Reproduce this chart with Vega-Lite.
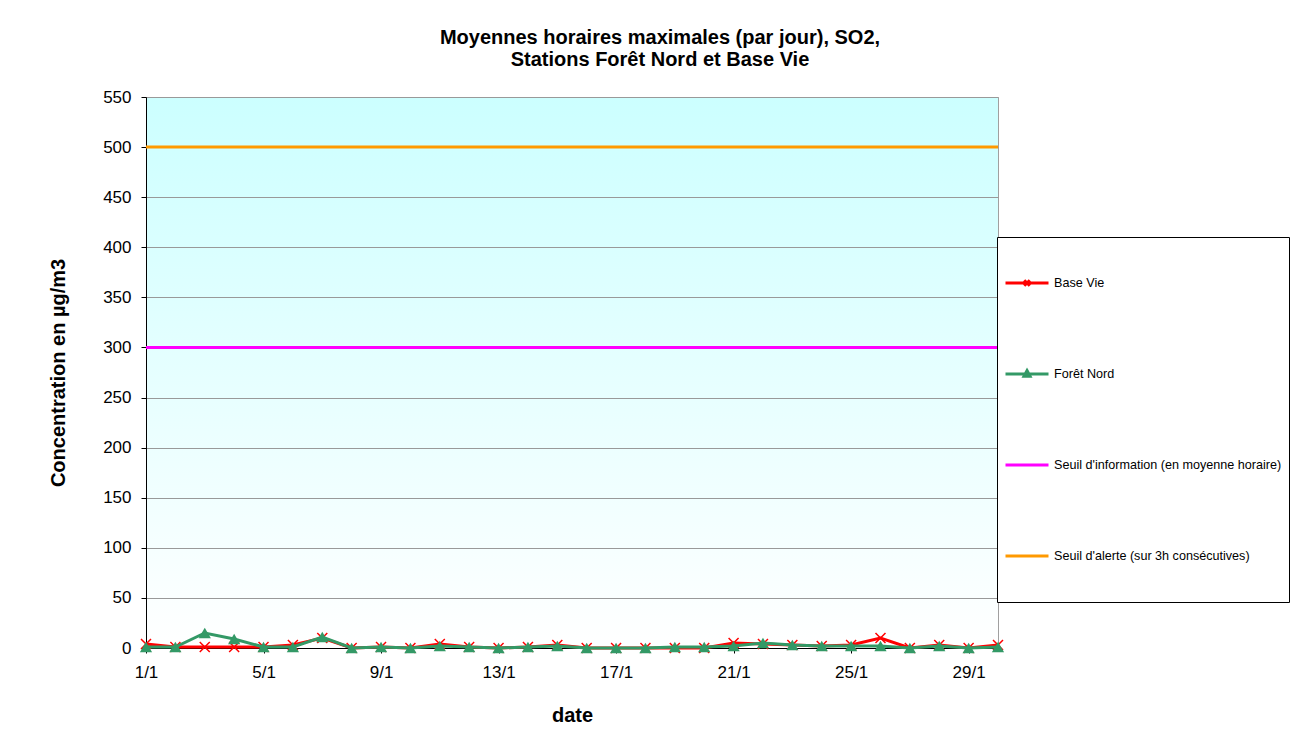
{
  "$schema": "https://vega.github.io/schema/vega-lite/v6.json",
  "width": 852,
  "height": 551,
  "autosize": {"type": "none"},
  "padding": {"left": 146, "top": 97, "right": 294, "bottom": 94},
  "background": "white",
  "title": {
    "text": ["Moyennes horaires maximales (par jour), SO2,", "Stations Forêt Nord et Base Vie"],
    "font": "Liberation Sans",
    "fontSize": 20,
    "fontWeight": "bold",
    "color": "black",
    "anchor": "middle",
    "dx": 88,
    "offset": 18,
    "lineHeight": 22
  },
  "config": {
    "font": "Liberation Sans",
    "view": {
      "fill": {
        "gradient": "linear",
        "x1": 0, "y1": 0, "x2": 0, "y2": 1,
        "stops": [
          {"offset": 0, "color": "#ccffff"},
          {"offset": 1, "color": "#ffffff"}
        ]
      },
      "stroke": "#a0a0a0"
    }
  },
  "datasets": {
    "seuils": [
      {"serie": "Seuil d'information (en moyenne horaire)", "valeur": 300},
      {"serie": "Seuil d'alerte (sur 3h consécutives)", "valeur": 500}
    ],
    "mesures": [
      {"serie": "Base Vie", "jour": 1, "valeur": 4},
      {"serie": "Base Vie", "jour": 2, "valeur": 1},
      {"serie": "Base Vie", "jour": 3, "valeur": 1},
      {"serie": "Base Vie", "jour": 4, "valeur": 1},
      {"serie": "Base Vie", "jour": 5, "valeur": 1},
      {"serie": "Base Vie", "jour": 6, "valeur": 3},
      {"serie": "Base Vie", "jour": 7, "valeur": 10},
      {"serie": "Base Vie", "jour": 8, "valeur": 0},
      {"serie": "Base Vie", "jour": 9, "valeur": 1},
      {"serie": "Base Vie", "jour": 10, "valeur": 0},
      {"serie": "Base Vie", "jour": 11, "valeur": 4},
      {"serie": "Base Vie", "jour": 12, "valeur": 1},
      {"serie": "Base Vie", "jour": 13, "valeur": 0},
      {"serie": "Base Vie", "jour": 14, "valeur": 1},
      {"serie": "Base Vie", "jour": 15, "valeur": 3},
      {"serie": "Base Vie", "jour": 16, "valeur": 0},
      {"serie": "Base Vie", "jour": 17, "valeur": 0},
      {"serie": "Base Vie", "jour": 18, "valeur": 0},
      {"serie": "Base Vie", "jour": 19, "valeur": 0},
      {"serie": "Base Vie", "jour": 20, "valeur": 0},
      {"serie": "Base Vie", "jour": 21, "valeur": 5},
      {"serie": "Base Vie", "jour": 22, "valeur": 4},
      {"serie": "Base Vie", "jour": 23, "valeur": 3},
      {"serie": "Base Vie", "jour": 24, "valeur": 2},
      {"serie": "Base Vie", "jour": 25, "valeur": 3},
      {"serie": "Base Vie", "jour": 26, "valeur": 10},
      {"serie": "Base Vie", "jour": 27, "valeur": 0},
      {"serie": "Base Vie", "jour": 28, "valeur": 3},
      {"serie": "Base Vie", "jour": 29, "valeur": 0},
      {"serie": "Base Vie", "jour": 30, "valeur": 3},
      {"serie": "Forêt Nord", "jour": 1, "valeur": 1},
      {"serie": "Forêt Nord", "jour": 2, "valeur": 1},
      {"serie": "Forêt Nord", "jour": 3, "valeur": 15},
      {"serie": "Forêt Nord", "jour": 4, "valeur": 9},
      {"serie": "Forêt Nord", "jour": 5, "valeur": 1},
      {"serie": "Forêt Nord", "jour": 6, "valeur": 1},
      {"serie": "Forêt Nord", "jour": 7, "valeur": 11},
      {"serie": "Forêt Nord", "jour": 8, "valeur": 0},
      {"serie": "Forêt Nord", "jour": 9, "valeur": 1},
      {"serie": "Forêt Nord", "jour": 10, "valeur": 0},
      {"serie": "Forêt Nord", "jour": 11, "valeur": 2},
      {"serie": "Forêt Nord", "jour": 12, "valeur": 1},
      {"serie": "Forêt Nord", "jour": 13, "valeur": 0},
      {"serie": "Forêt Nord", "jour": 14, "valeur": 1},
      {"serie": "Forêt Nord", "jour": 15, "valeur": 2},
      {"serie": "Forêt Nord", "jour": 16, "valeur": 0},
      {"serie": "Forêt Nord", "jour": 17, "valeur": 0},
      {"serie": "Forêt Nord", "jour": 18, "valeur": 0},
      {"serie": "Forêt Nord", "jour": 19, "valeur": 1},
      {"serie": "Forêt Nord", "jour": 20, "valeur": 1},
      {"serie": "Forêt Nord", "jour": 21, "valeur": 2},
      {"serie": "Forêt Nord", "jour": 22, "valeur": 5},
      {"serie": "Forêt Nord", "jour": 23, "valeur": 3},
      {"serie": "Forêt Nord", "jour": 24, "valeur": 2},
      {"serie": "Forêt Nord", "jour": 25, "valeur": 2},
      {"serie": "Forêt Nord", "jour": 26, "valeur": 2},
      {"serie": "Forêt Nord", "jour": 27, "valeur": 0},
      {"serie": "Forêt Nord", "jour": 28, "valeur": 2},
      {"serie": "Forêt Nord", "jour": 29, "valeur": 0},
      {"serie": "Forêt Nord", "jour": 30, "valeur": 1}
    ]
  },
  "layer": [
    {
      "data": {"name": "seuils"},
      "mark": {"type": "rule", "strokeWidth": 3},
      "encoding": {
        "y": {
          "field": "valeur",
          "type": "quantitative",
          "scale": {"domain": [0, 550], "nice": false},
          "axis": {
            "values": [0, 50, 100, 150, 200, 250, 300, 350, 400, 450, 500, 550],
            "title": "Concentration en µg/m3",
            "titleFontSize": 20,
            "titleFontWeight": "bold",
            "titleColor": "black",
            "titlePadding": 34,
            "labelFontSize": 17,
            "labelColor": "black",
            "labelPadding": 10,
            "tickSize": 5,
            "tickColor": "black",
            "domainColor": "black",
            "gridColor": "#999999",
            "gridWidth": 1
          }
        },
        "color": {
          "field": "serie",
          "type": "nominal",
          "scale": {
            "domain": ["Base Vie", "Forêt Nord", "Seuil d'information (en moyenne horaire)", "Seuil d'alerte (sur 3h consécutives)"],
            "range": ["#ff0000", "#339966", "#ff00ff", "#ff9900"]
          },
          "legend": {
            "orient": "none",
            "legendX": 851,
            "legendY": 140,
            "title": null,
            "padding": 7,
            "fillColor": "white",
            "strokeColor": "black",
            "clipHeight": 78,
            "rowPadding": 13,
            "symbolSize": 1849,
            "symbolStrokeWidth": 3,
            "labelFont": "Liberation Sans",
            "labelFontSize": 12.6,
            "labelColor": "black",
            "labelOffset": 4,
            "labelLimit": 300,
            "encode": {
              "symbols": {
                "update": {
                  "shape": {"signal": "datum.value === 'Base Vie' ? 'M-1,0H1M-0.13,-0.13L0.13,0.13M-0.13,0.13L0.13,-0.13' : datum.value === 'Forêt Nord' ? 'M-1,0H1M0,-0.16L0.14,0.1L-0.14,0.1Z' : 'M-1,0H1'"},
                  "fill": {"signal": "datum.value === 'Forêt Nord' ? '#339966' : 'transparent'"},
                  "stroke": {"signal": "scale('color', datum.value)"},
                  "opacity": {"value": 1}
                }
              }
            }
          }
        }
      }
    },
    {
      "data": {"name": "mesures"},
      "transform": [{"filter": "datum.serie === 'Base Vie'"}],
      "mark": {"type": "line", "strokeWidth": 3},
      "encoding": {
        "x": {
          "field": "jour",
          "type": "quantitative",
          "scale": {"domain": [1, 30], "nice": false, "zero": false},
          "axis": {
            "values": [1, 5, 9, 13, 17, 21, 25, 29],
            "labelExpr": "datum.value + '/1'",
            "title": "date",
            "grid": false,
            "labelFlush": false,
            "labelFontSize": 17,
            "labelColor": "black",
            "labelPadding": 11,
            "tickSize": 5,
            "tickColor": "black",
            "domainColor": "black",
            "titleFontSize": 20,
            "titleFontWeight": "bold",
            "titleColor": "black",
            "titlePadding": 25
          }
        },
        "y": {"field": "valeur", "type": "quantitative"},
        "color": {"field": "serie", "type": "nominal"}
      }
    },
    {
      "data": {"name": "mesures"},
      "transform": [{"filter": "datum.serie === 'Base Vie'"}],
      "mark": {"type": "point", "shape": "M-1,-1L1,1M-1,1L1,-1", "size": 100, "filled": false, "strokeWidth": 1.5, "opacity": 1},
      "encoding": {
        "x": {"field": "jour", "type": "quantitative"},
        "y": {"field": "valeur", "type": "quantitative"},
        "color": {"field": "serie", "type": "nominal"}
      }
    },
    {
      "data": {"name": "mesures"},
      "transform": [{"filter": "datum.serie === 'Forêt Nord'"}],
      "mark": {"type": "line", "strokeWidth": 3},
      "encoding": {
        "x": {"field": "jour", "type": "quantitative"},
        "y": {"field": "valeur", "type": "quantitative"},
        "color": {"field": "serie", "type": "nominal"}
      }
    },
    {
      "data": {"name": "mesures"},
      "transform": [{"filter": "datum.serie === 'Forêt Nord'"}],
      "mark": {"type": "point", "shape": "triangle-up", "size": 150, "filled": true, "opacity": 1},
      "encoding": {
        "x": {"field": "jour", "type": "quantitative"},
        "y": {"field": "valeur", "type": "quantitative"},
        "color": {"field": "serie", "type": "nominal"}
      }
    }
  ]
}
